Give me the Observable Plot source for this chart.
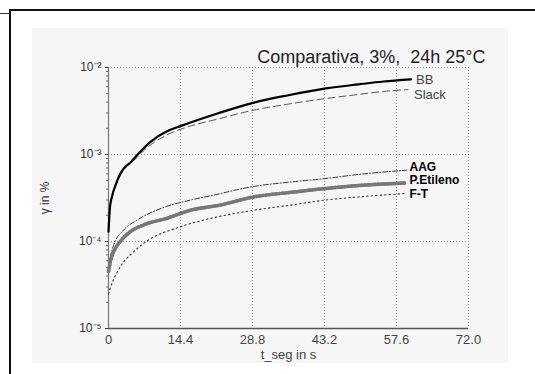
<!DOCTYPE html>
<html><head><meta charset="utf-8">
<script src="https://cdn.jsdelivr.net/npm/d3@7"></script>
<script src="https://cdn.jsdelivr.net/npm/@observablehq/plot@0.6"></script>
<style>
body{margin:0;background:#fff;}
#wrap{position:relative;width:535px;height:374px;overflow:hidden;font-family:"Liberation Sans",Arial,sans-serif;}
#frame{position:absolute;left:9px;top:9px;width:600px;height:400px;border-left:2px solid #111;border-top:2px solid #111;}
#stub{position:absolute;left:0;top:13px;width:10px;height:0;border-top:1px solid #333;}
#panel{position:absolute;left:32px;top:28px;width:476px;height:335px;background:#f6f6f6;}
#chart{position:absolute;left:0;top:0;}
</style></head><body>
<div id="wrap"><div id="frame"></div><div id="stub"></div><div id="panel"></div><div id="chart"></div></div>
<script>
// ---- data ----
const seriesNames = ["BB", "Slack", "AAG", "P.Etileno", "F-T"];
const bbT = [0, 0.3, 0.7, 1.5, 2.5, 3.35, 4.5, 5.7, 8.4, 11.7, 14.4, 21.8, 29.1, 36, 43.5, 50, 55, 60.5];
const bbV = [1.3e-4, 2.5e-4, 3.3e-4, 4.6e-4, 6.2e-4, 7.2e-4, 8.2e-4, 9.8e-4, 1.4e-3, 1.85e-3, 2.12e-3, 2.96e-3, 3.95e-3, 4.8e-3, 5.75e-3, 6.4e-3, 6.9e-3, 7.3e-3];
const slackT = [0, 0.3, 0.7, 1.5, 2.5, 3.35, 5.7, 7, 11.7, 14.4, 21.8, 29.1, 36, 43.5, 50, 55, 59.9];
const slackV = [1.3e-4, 2.4e-4, 3.2e-4, 4.4e-4, 5.9e-4, 7.0e-4, 9.2e-4, 1.1e-3, 1.68e-3, 1.95e-3, 2.55e-3, 3.24e-3, 3.8e-3, 4.4e-3, 4.9e-3, 5.3e-3, 5.58e-3];
const aagT = [0, 0.4, 1, 3, 5.7, 10.5, 15.9, 20.4, 29.1, 36, 43.5, 50, 59.6];
const aagV = [5.0e-5, 6.8e-5, 9.0e-5, 1.35e-4, 1.76e-4, 2.4e-4, 2.95e-4, 3.35e-4, 4.3e-4, 4.8e-4, 5.3e-4, 5.9e-4, 6.6e-4];
const peT = [0, 0.34, 1.35, 2.35, 4.3, 7, 11.7, 16.5, 22, 29.1, 36, 43.5, 50, 59.2];
const peV = [4.5e-5, 5.8e-5, 8.3e-5, 1.0e-4, 1.29e-4, 1.55e-4, 1.85e-4, 2.3e-4, 2.6e-4, 3.26e-4, 3.65e-4, 4.07e-4, 4.4e-4, 4.7e-4];
const ftT = [0, 0.34, 2.35, 5, 7, 14.4, 20.4, 29.1, 36, 43.5, 50, 59.2];
const ftV = [2.5e-5, 2.9e-5, 5.1e-5, 7.6e-5, 9.5e-5, 1.48e-4, 1.84e-4, 2.29e-4, 2.6e-4, 3.0e-4, 3.25e-4, 3.56e-4];

const xTicks = [0, 14.4, 28.8, 43.2, 57.6, 72];
const xTickLabels = ["0", "14.4", "28.8", "43.2", "57.6", "72.0"];
const yTicks = [1e-5, 1e-4, 1e-3, 1e-2];
const yTickLabels = ["10⁻⁵", "10⁻⁴", "10⁻³", "10⁻²"];
const titleText = "Comparativa, 3%,  24h 25°C";
const xLabel = "t_seg in s";
const yLabel = "γ in %";

// ---- build tables ----
const toRows = (T, V) => T.map((t, i) => ({t, v: V[i]}));
const rows = {
  "BB": toRows(bbT, bbV),
  "Slack": toRows(slackT, slackV),
  "AAG": toRows(aagT, aagV),
  "P.Etileno": toRows(peT, peV),
  "F-T": toRows(ftT, ftV)
};
const xFmt = new Map(xTicks.map((d, i) => [d, xTickLabels[i]]));
const yFmt = new Map(yTicks.map((d, i) => [d, yTickLabels[i]]));
const minorY = [];
for (const d of yTicks.slice(0, -1)) for (let k = 2; k <= 9; k++) minorY.push(d * k);

const labelStyle = {
  "BB": {dx: 5, dy: 0, fill: "#444", fontSize: 13, fontWeight: "normal"},
  "Slack": {dx: 6, dy: 5, fill: "#444", fontSize: 13, fontWeight: "normal"},
  "AAG": {dx: 3, dy: -3, fill: "#000", fontSize: 12, fontWeight: "bold"},
  "P.Etileno": {dx: 5, dy: -2.5, fill: "#000", fontSize: 12, fontWeight: "bold"},
  "F-T": {dx: 5, dy: 0.5, fill: "#000", fontSize: 12, fontWeight: "bold"}
};
const C = "monotone-x";

const marks = [
  Plot.gridX(xTicks.slice(1), {stroke: "#888", strokeOpacity: 1, strokeDasharray: "1,2"}),
  Plot.gridY(yTicks.slice(1), {stroke: "#888", strokeOpacity: 1, strokeDasharray: "1,2"}),
  Plot.axisY(minorY, {tickSize: 2, tickFormat: () => "", label: null, stroke: "#666"}),
  Plot.axisY(yTicks, {tickSize: 3, tickPadding: 4, tickFormat: d => yFmt.get(d), fontSize: 12, fill: "#333",
    label: yLabel, labelAnchor: "center", labelOffset: 68, labelArrow: "none"}),
  Plot.axisX(xTicks, {tickSize: 0, tickPadding: 6, tickFormat: d => xFmt.get(d), fontSize: 13, fill: "#444",
    label: xLabel, labelAnchor: "center", labelOffset: 30, labelArrow: "none"}),
  Plot.ruleX([0], {stroke: "#777", strokeWidth: 1.2}),
  Plot.ruleY([1e-5], {stroke: "#555", strokeWidth: 1.6}),
  // lines
  Plot.line(rows["F-T"], {x: "t", y: "v", stroke: "#333", strokeWidth: 1.1, strokeDasharray: "1.5,3", curve: C}),
  Plot.line(rows["AAG"], {x: "t", y: "v", stroke: "#333", strokeWidth: 1, strokeDasharray: "5,2,1,2", curve: C}),
  Plot.line(rows["P.Etileno"], {x: "t", y: "v", stroke: "#777", strokeWidth: 3.4, curve: C}),
  Plot.line(rows["P.Etileno"], {x: "t", y: "v", stroke: "#fff", strokeWidth: 1.6, curve: C}),
  Plot.line(rows["P.Etileno"], {x: "t", y: "v", stroke: "#777", strokeWidth: 3.4, strokeDasharray: "0.7,2.6", curve: C}),
  Plot.line(rows["Slack"], {x: "t", y: "v", stroke: "#555", strokeWidth: 1, strokeDasharray: "7,4", curve: C}),
  Plot.line(rows["BB"], {x: "t", y: "v", stroke: "#000", strokeWidth: 2.2, curve: C}),
  Plot.text([titleText], {frameAnchor: "top-right", dx: 17, dy: -17, textAnchor: "end", fontSize: 18, fill: "#222"})
];
for (const name of seriesNames) {
  const r = rows[name];
  const last = r[r.length - 1];
  const s = labelStyle[name];
  marks.push(Plot.text([last], {x: "t", y: "v", text: () => name, textAnchor: "start", ...s}));
}

const chart = Plot.plot({
  width: 535, height: 374,
  marginLeft: 108, marginRight: 67, marginTop: 67, marginBottom: 46,
  style: {fontFamily: "Liberation Sans, Arial, sans-serif", background: "transparent", color: "#333", overflow: "visible"},
  x: {domain: [0, 72]},
  y: {type: "log", domain: [1e-5, 1e-2]},
  marks
});
document.getElementById("chart").appendChild(chart);
</script>
</body></html>
